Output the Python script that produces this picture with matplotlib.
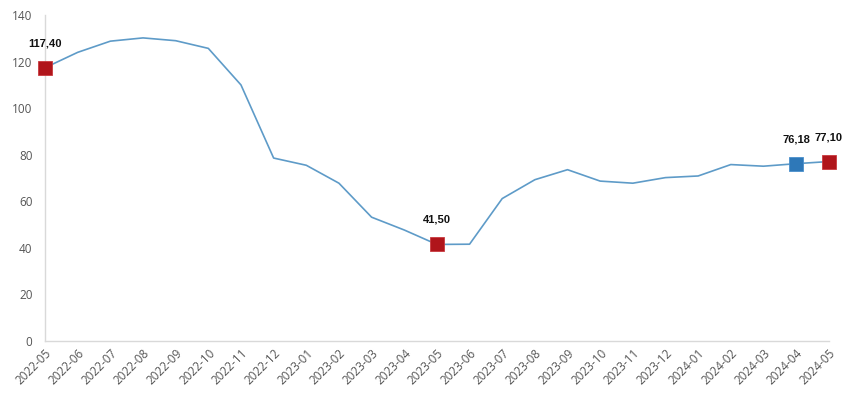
import matplotlib.pyplot as plt
import numpy as np

months = ['2022-05', '2022-06', '2022-07', '2022-08', '2022-09', '2022-10', '2022-11',
          '2022-12', '2023-01', '2023-02', '2023-03', '2023-04', '2023-05', '2023-06',
          '2023-07', '2023-08', '2023-09', '2023-10', '2023-11', '2023-12', '2024-01',
          '2024-02', '2024-03', '2024-04', '2024-05']
values = [117.40, 124.0, 128.8, 130.2, 129.0, 125.7, 110.0,
          78.6, 75.5, 67.8, 53.2, 47.7, 41.50, 41.6,
          61.2, 69.3, 73.6, 68.7, 67.8, 70.2, 70.9,
          75.8, 75.1, 76.18, 77.10]

# highlighted points: index -> colour
red_points = [0, 12, 24]
blue_points = [23]

fig = plt.figure(figsize=(8.5, 4.19), dpi=100)
ax = fig.add_axes([0.053, 0.186, 0.922, 0.778])

x = np.arange(len(months))
ax.plot(x, values, color='#5e9bc8', linewidth=1.2, zorder=3)

for i in red_points:
    ax.plot(x[i], values[i], marker='s', markersize=9.5, color='#b0151b',
            markeredgecolor='#c93a3f', markeredgewidth=0.6, zorder=4, clip_on=False)
for i in blue_points:
    ax.plot(x[i], values[i], marker='s', markersize=9.5, color='#2e78b8',
            markeredgecolor='#4a8fcc', markeredgewidth=0.6, zorder=4, clip_on=False)

for i in red_points + blue_points:
    label = f"{values[i]:.2f}".replace('.', ',')
    ax.annotate(label, (x[i], values[i]), xytext=(0, 14), textcoords='offset points',
                ha='center', va='bottom', fontsize=8, fontweight='bold',
                family='Liberation Sans', color='#111111', zorder=5)

ax.set_xlim(0, len(months) - 1)
ax.set_ylim(0, 140)
ax.set_yticks(np.arange(0, 141, 20))
ax.set_xticks(x)
ax.set_xticklabels(months, rotation=45, ha='right', rotation_mode='anchor')

for lbl in ax.get_xticklabels() + ax.get_yticklabels():
    lbl.set_family('Open Sans')
    lbl.set_fontsize(8.5)
    lbl.set_color('#555555')

ax.tick_params(axis='both', length=0)
ax.tick_params(axis='y', pad=9)
ax.tick_params(axis='x', pad=4)
for side in ['top', 'right']:
    ax.spines[side].set_visible(False)
for side in ['left', 'bottom']:
    ax.spines[side].set_color('#d9d9d9')
    ax.spines[side].set_linewidth(1.0)
    ax.spines[side].set_zorder(1)

fig.savefig('out.png', dpi=100)
